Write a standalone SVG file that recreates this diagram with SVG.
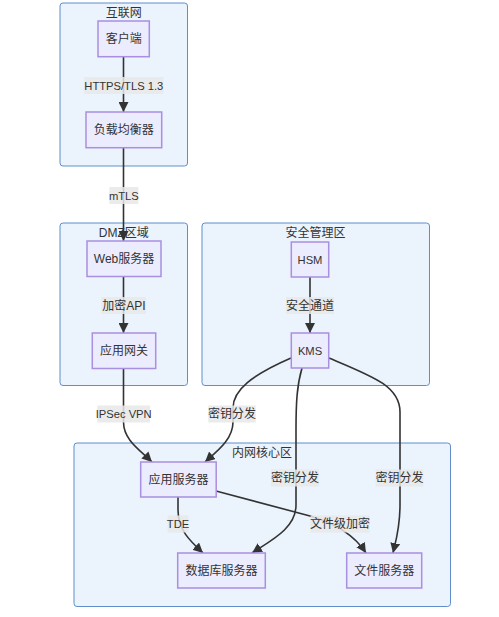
<svg xmlns="http://www.w3.org/2000/svg" width="499" height="617" viewBox="0 0 499 617">
<style>
text{font-family:"Liberation Sans","Noto Sans CJK SC",sans-serif;font-size:12px;fill:#333;text-anchor:middle;dominant-baseline:central}
text.lat{font-size:11.2px}
.cluster rect{fill:#ebf3fc;stroke:#5e8fcc;stroke-width:1}
.node rect{fill:#ececff;stroke:#a98fe0;stroke-width:1.5}
.edge{fill:none;stroke:#333;stroke-width:1.6}
.lbl rect{fill:#e8e8e8;fill-opacity:0.85}
</style>
<defs>
<marker id="ah" viewBox="0 0 10 10" refX="10" refY="5" markerUnits="userSpaceOnUse" markerWidth="10" markerHeight="10" orient="auto">
<path d="M0,0 L10,5 L0,10 z" fill="#333"/>
</marker>
</defs>
<g id="clusters">
<g id="cluster-internet" class="cluster"><rect x="60" y="3" width="127.5" height="163" rx="3"/><text x="123.8" y="13">互联网</text></g>
<g id="cluster-dmz" class="cluster"><rect x="60" y="223" width="127.5" height="162.5" rx="3"/><text x="123.8" y="233">DMZ区域</text></g>
<g id="cluster-sec" class="cluster"><rect x="202" y="223" width="227.5" height="162.5" rx="3"/><text x="315.5" y="233">安全管理区</text></g>
<g id="cluster-core" class="cluster"><rect x="74" y="443" width="376.5" height="163.5" rx="3"/><text x="262" y="452.5">内网核心区</text></g>
</g>
<g id="connectors">
<path class="edge" d="M123.5,57 L123.5,112" marker-end="url(#ah)"/>
<path class="edge" d="M123.5,148 L123.5,241" marker-end="url(#ah)"/>
<path class="edge" d="M123.5,276 L123.5,333" marker-end="url(#ah)"/>
<path class="edge" d="M310,277 L310,333" marker-end="url(#ah)"/>
<path class="edge" d="M123.5,368 L123.5,422 C123.5,440 140,450 152,462" marker-end="url(#ah)"/>
<path class="edge" d="M291,358 C252,375 233,390 233,408 L233,422 C233,440 216,452 205,462" marker-end="url(#ah)"/>
<path class="edge" d="M302,368 C297,385 296,402 296,430 L296,505 C296,528 272,540 252,553" marker-end="url(#ah)"/>
<path class="edge" d="M329,358 C372,376 400,386 400,412 L400,505 C400,528 396,540 393,553" marker-end="url(#ah)"/>
<path class="edge" d="M178,497 L178,510 C178,530 190,541 203,553" marker-end="url(#ah)"/>
<path class="edge" d="M216,491 L310,516 C338,524 355,536 366,553" marker-end="url(#ah)"/>
</g>
<g id="edge-labels">
<g class="lbl"><rect x="84.3" y="77" width="79" height="17"/><text class="lat" x="123.8" y="85.5">HTTPS/TLS 1.3</text></g>
<g class="lbl"><rect x="109.3" y="187" width="29" height="17"/><text class="lat" x="123.8" y="195.5">mTLS</text></g>
<g class="lbl"><rect x="101.5" y="297" width="44.5" height="17"/><text x="123.8" y="305.5">加密API</text></g>
<g class="lbl"><rect x="286" y="297" width="48" height="17"/><text x="310" y="305.5">安全通道</text></g>
<g class="lbl"><rect x="97.3" y="405.5" width="52.7" height="17"/><text class="lat" x="123.7" y="414">IPSec VPN</text></g>
<g class="lbl"><rect x="208.3" y="405.5" width="47.4" height="17"/><text x="232" y="414">密钥分发</text></g>
<g class="lbl"><rect x="271" y="469.5" width="48" height="17"/><text x="295" y="478">密钥分发</text></g>
<g class="lbl"><rect x="375.7" y="469.5" width="47.6" height="17"/><text x="399.5" y="478">密钥分发</text></g>
<g class="lbl"><rect x="167.7" y="515.5" width="20.6" height="17"/><text class="lat" x="178" y="524">TDE</text></g>
<g class="lbl"><rect x="310.5" y="515.5" width="59" height="17"/><text x="340" y="524">文件级加密</text></g>
</g>
<g id="node-client" class="node"><rect x="98" y="21" width="51.3" height="35.7"/><text x="123.7" y="39">客户端</text></g>
<g id="node-lb" class="node"><rect x="86" y="112" width="75.7" height="35.7"/><text x="123.8" y="130">负载均衡器</text></g>
<g id="node-web" class="node"><rect x="87" y="241" width="74" height="35.5"/><text x="124" y="259">Web服务器</text></g>
<g id="node-gw" class="node"><rect x="92.3" y="333" width="63.4" height="35.5"/><text x="124" y="351">应用网关</text></g>
<g id="node-hsm" class="node"><rect x="291.3" y="242" width="37.4" height="35"/><text class="lat" x="310" y="259.5">HSM</text></g>
<g id="node-kms" class="node"><rect x="291.3" y="333" width="37.4" height="35"/><text class="lat" x="310" y="350.5">KMS</text></g>
<g id="node-app" class="node"><rect x="140.7" y="462" width="75.5" height="35"/><text x="178.4" y="479.5">应用服务器</text></g>
<g id="node-db" class="node"><rect x="177.7" y="553" width="87.6" height="35"/><text x="221.5" y="570.5">数据库服务器</text></g>
<g id="node-file" class="node"><rect x="346.7" y="553" width="75" height="35"/><text x="384.2" y="570.5">文件服务器</text></g>
</svg>
